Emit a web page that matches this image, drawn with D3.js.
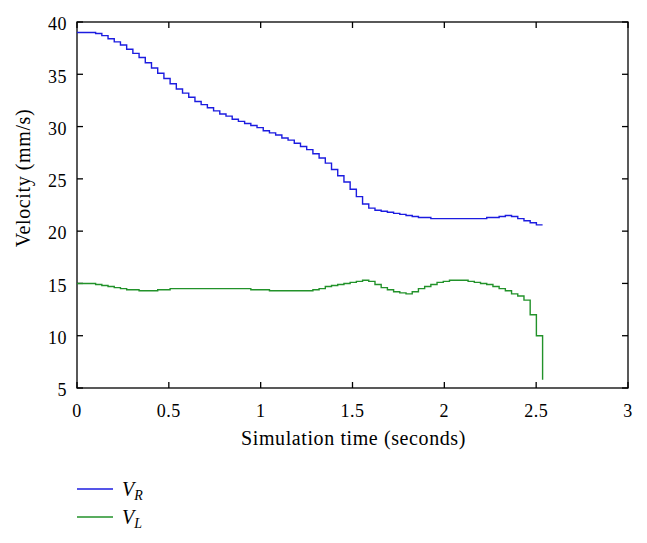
<!DOCTYPE html>
<html>
<head>
<meta charset="utf-8">
<script src="https://cdn.jsdelivr.net/npm/d3@7"></script>
<style>
  html, body { margin: 0; padding: 0; background: #fff; }
  svg { display: block; font-family: "Liberation Serif", "DejaVu Serif", serif; }
</style>
</head>
<body>
<svg id="chart" width="647" height="543"></svg>
<script>
// ---- data ----
const stepSize = 0.0338; // seconds between controller updates
const velocityR = [
  39.0, 39.0, 39.0, 38.9, 38.7, 38.4, 38.1, 37.8, 37.4, 37.0,
  36.6, 36.1, 35.6, 35.1, 34.6, 34.1, 33.6, 33.2, 32.8, 32.4,
  32.1, 31.8, 31.5, 31.2, 31.0, 30.7, 30.5, 30.3, 30.1, 29.9,
  29.6, 29.4, 29.2, 28.9, 28.7, 28.4, 28.1, 27.8, 27.4, 27.0,
  26.5, 25.9, 25.3, 24.7, 24.0, 23.3, 22.6, 22.2, 22.0, 21.9,
  21.8, 21.7, 21.6, 21.5, 21.4, 21.3, 21.3, 21.2, 21.2, 21.2,
  21.2, 21.2, 21.2, 21.2, 21.2, 21.2, 21.3, 21.3, 21.4, 21.5,
  21.4, 21.2, 21.0, 20.8, 20.6, 20.6
];
const velocityL = [
  15.0, 15.0, 15.0, 14.9, 14.8, 14.7, 14.6, 14.5, 14.4, 14.4,
  14.3, 14.3, 14.3, 14.4, 14.4, 14.5, 14.5, 14.5, 14.5, 14.5,
  14.5, 14.5, 14.5, 14.5, 14.5, 14.5, 14.5, 14.5, 14.4, 14.4,
  14.4, 14.3, 14.3, 14.3, 14.3, 14.3, 14.3, 14.3, 14.4, 14.5,
  14.7, 14.8, 14.9, 15.0, 15.1, 15.2, 15.3, 15.2, 14.9, 14.6,
  14.4, 14.2, 14.1, 14.0, 14.2, 14.5, 14.7, 14.9, 15.1, 15.2,
  15.3, 15.3, 15.3, 15.2, 15.1, 15.0, 14.9, 14.7, 14.5, 14.3,
  14.0, 13.8, 13.4, 12.0, 10.0, 5.8
];
const xTicks = [0, 0.5, 1, 1.5, 2, 2.5, 3];
const yTicks = [5, 10, 15, 20, 25, 30, 35, 40];
const seriesNames = ["R", "L"];
const seriesColors = ["#1c1ce0", "#22922a"];

// ---- layout ----
const svg = d3.select("#chart");
const pLeft = 77, pRight = 628, pTop = 22, pBottom = 388;
const x = d3.scaleLinear().domain([0, 3]).range([pLeft, pRight]);
const y = d3.scaleLinear().domain([5, 40]).range([pBottom, pTop]);

// frame
svg.append("rect")
  .attr("x", pLeft).attr("y", pTop)
  .attr("width", pRight - pLeft).attr("height", pBottom - pTop)
  .attr("fill", "none").attr("stroke", "#000").attr("stroke-width", 1.3);

const tickLen = 6;
const tickG = svg.append("g").attr("stroke", "#000").attr("stroke-width", 1.3);
xTicks.forEach(t => {
  tickG.append("line").attr("x1", x(t)).attr("x2", x(t)).attr("y1", pBottom).attr("y2", pBottom - tickLen);
  tickG.append("line").attr("x1", x(t)).attr("x2", x(t)).attr("y1", pTop).attr("y2", pTop + tickLen);
});
yTicks.forEach(t => {
  tickG.append("line").attr("y1", y(t)).attr("y2", y(t)).attr("x1", pLeft).attr("x2", pLeft + tickLen);
  tickG.append("line").attr("y1", y(t)).attr("y2", y(t)).attr("x1", pRight).attr("x2", pRight - tickLen);
});

// tick labels
svg.append("g").selectAll("text").data(xTicks).join("text")
  .attr("x", d => x(d)).attr("y", pBottom + 29)
  .attr("text-anchor", "middle").attr("font-size", 18).attr("letter-spacing", 0.5).attr("fill", "#000")
  .text(d => d);
svg.append("g").selectAll("text").data(yTicks).join("text")
  .attr("x", pLeft - 10).attr("y", d => y(d) + 2).attr("dy", "0.35em")
  .attr("text-anchor", "end").attr("font-size", 18).attr("letter-spacing", 0.5).attr("fill", "#000")
  .text(d => d);

// axis titles
svg.append("text")
  .attr("x", (pLeft + pRight) / 2 + 1).attr("y", 445)
  .attr("text-anchor", "middle").attr("font-size", 20).attr("letter-spacing", 0.6).attr("fill", "#000")
  .text("Simulation time (seconds)");
svg.append("text")
  .attr("transform", `translate(30,${178}) rotate(-90)`)
  .attr("text-anchor", "middle").attr("font-size", 20).attr("letter-spacing", 0.6).attr("fill", "#000")
  .text("Velocity (mm/s)");

// series
const line = d3.line()
  .x((d, i) => x(i * stepSize))
  .y(d => y(d))
  .curve(d3.curveStepAfter);
[velocityR, velocityL].forEach((vals, k) => {
  svg.append("path")
    .attr("d", line(vals))
    .attr("fill", "none")
    .attr("stroke", seriesColors[k])
    .attr("stroke-width", 1.4);
});

// legend
const legY = [489, 517];
seriesNames.forEach((n, k) => {
  svg.append("line")
    .attr("x1", 77).attr("x2", 113).attr("y1", legY[k]).attr("y2", legY[k])
    .attr("stroke", seriesColors[k]).attr("stroke-width", 1.4);
  const t = svg.append("text")
    .attr("x", 122).attr("y", legY[k] + 7)
    .attr("font-size", 20).attr("font-style", "italic").attr("fill", "#000");
  t.append("tspan").text("V");
  t.append("tspan").attr("dy", 4).attr("font-size", 14).text(n);
});
</script>
</body>
</html>
